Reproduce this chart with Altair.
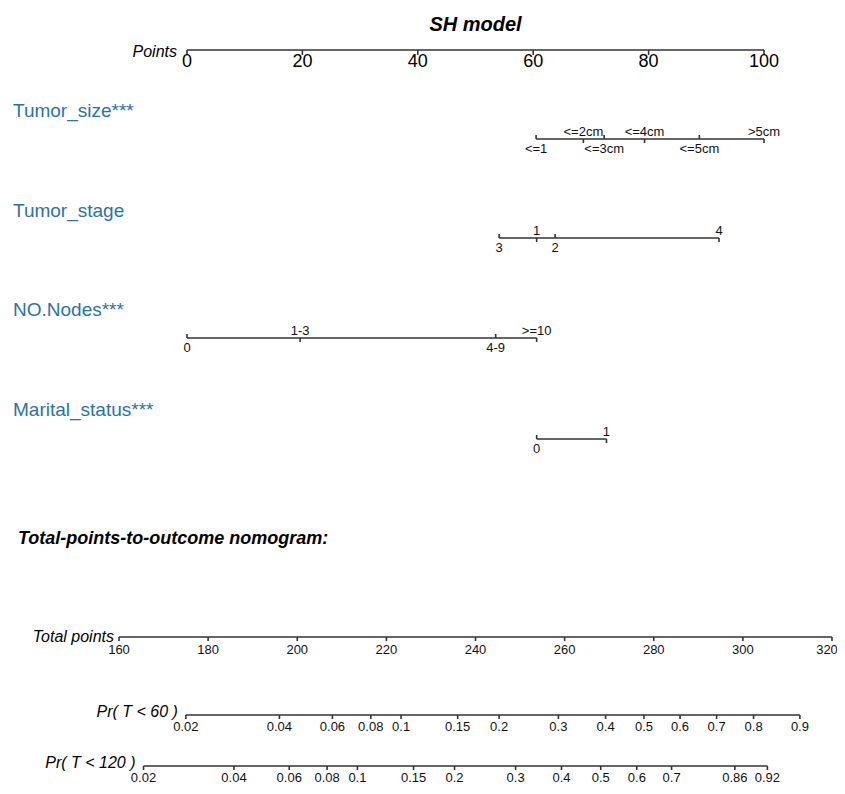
import altair as alt
import pandas as pd

# ---------------- data ----------------
TITLE = "SH model"
SUBTITLE = "Total-points-to-outcome nomogram:"
POINTS_TICKS = [0, 20, 40, 60, 80, 100]

VAR_NAMES = ["Tumor_size***", "Tumor_stage", "NO.Nodes***", "Marital_status***"]
TUMOR_SIZE_LEVELS = ["<=1", "<=2cm", "<=3cm", "<=4cm", "<=5cm", ">5cm"]
TUMOR_SIZE_POINTS = [60.5, 68.7, 72.3, 79.3, 88.8, 100.0]
TUMOR_STAGE_LEVELS = ["1", "2", "3", "4"]
TUMOR_STAGE_POINTS = [60.6, 63.8, 54.1, 92.2]
NODES_LEVELS = ["0", "1-3", "4-9", ">=10"]
NODES_POINTS = [0.0, 19.6, 53.5, 60.6]
MARITAL_LEVELS = ["0", "1"]
MARITAL_POINTS = [60.6, 72.7]

TOTAL_TICKS = [160, 180, 200, 220, 240, 260, 280, 300, 320]

PR60_TITLE = "Pr( T < 60 )"
PR60_LABELS = ["0.02", "0.04", "0.06", "0.08", "0.1", "0.15", "0.2", "0.3",
               "0.4", "0.5", "0.6", "0.7", "0.8", "0.9"]
PR60_TOTAL = [175.0, 196.0, 207.9, 216.5, 223.3, 236.0, 245.3, 258.6,
              269.2, 277.8, 285.9, 294.1, 302.4, 312.8]
PR120_TITLE = "Pr( T < 120 )"
PR120_LABELS = ["0.02", "0.04", "0.06", "0.08", "0.1", "0.15", "0.2", "0.3",
                "0.4", "0.5", "0.6", "0.7", "0.86", "0.92"]
PR120_TOTAL = [165.5, 185.8, 198.2, 206.7, 213.5, 226.1, 235.3, 249.0,
               259.3, 268.1, 276.2, 284.0, 298.2, 305.5]

# ---------------- layout (page pixel rows) ----------------
ROW = {"title": 25, "points": 50, "subtitle": 539, "total": 637,
       "pr60": 715, "pr120": 766}
VAR_LINE_Y = [139, 238, 338, 439]
VAR_NAME_Y = [117, 217, 316, 416]
TOP, BOTTOM = 8, 786

FONT = "Liberation Sans, Arial, sans-serif"
INK = "#111111"
LINE = "#333333"
BLUE = "#2b72ad"

X_PTS = alt.Scale(domain=[0, 100], range=[68, 645], nice=False, zero=False)
X_TOT = alt.Scale(domain=[160, 320], nice=False, zero=False)
Y = alt.Scale(domain=[TOP, BOTTOM], reverse=True, nice=False, zero=False)


def xp(f):
    return alt.X(f, type="quantitative", scale=X_PTS, axis=None)


def xt(f):
    return alt.X(f, type="quantitative", scale=X_TOT, axis=None)


def yy(f="y"):
    return alt.Y(f, type="quantitative", scale=Y, axis=None)


layers = []

# title
title_df = pd.DataFrame({"t": [TITLE], "x": [(POINTS_TICKS[0] + POINTS_TICKS[-1]) / 2],
                         "y": [ROW["title"]]})
layers.append(alt.Chart(title_df).mark_text(font=FONT, fontSize=20, fontWeight="bold",
                                            fontStyle="italic", baseline="middle",
                                            color="#000")
              .encode(x=xp("x"), y=yy(), text="t:N"))

# Points axis
pts_df = pd.DataFrame({"v": POINTS_TICKS, "lab": [str(v) for v in POINTS_TICKS],
                       "y": ROW["points"]})
pts_line = pd.DataFrame({"a": [min(POINTS_TICKS)], "b": [max(POINTS_TICKS)],
                         "y": [ROW["points"]], "t": ["Points"]})
layers.append(alt.Chart(pts_line).mark_rule(color=LINE, strokeWidth=1.6)
              .encode(x=xp("a"), x2=alt.X2("b"), y=yy()))
layers.append(alt.Chart(pts_df).mark_rule(color=LINE, strokeWidth=1.6, y2Offset=5)
              .encode(x=xp("v"), y=yy(), y2=alt.Y2("y")))
layers.append(alt.Chart(pts_df).mark_text(font=FONT, fontSize=18, baseline="top", dy=3,
                                          color="#000")
              .encode(x=xp("v"), y=yy(), text="lab:N"))
layers.append(alt.Chart(pts_line).mark_text(font=FONT, fontSize=16, fontStyle="italic",
                                            align="right", baseline="middle", dx=-10,
                                            dy=2, color="#000")
              .encode(x=xp("a"), y=yy(), text="t:N"))

# variable axes
var_rows = []
var_lines = []
for i, (name, levels, pts) in enumerate(zip(
        VAR_NAMES,
        [TUMOR_SIZE_LEVELS, TUMOR_STAGE_LEVELS, NODES_LEVELS, MARITAL_LEVELS],
        [TUMOR_SIZE_POINTS, TUMOR_STAGE_POINTS, NODES_POINTS, MARITAL_POINTS])):
    order = sorted(range(len(pts)), key=lambda k: pts[k])
    for rank, k in enumerate(order):
        var_rows.append({"var": name, "lab": levels[k], "p": pts[k],
                         "side": "below" if rank % 2 == 0 else "above",
                         "y": VAR_LINE_Y[i]})
    var_lines.append({"var": name, "a": min(pts), "b": max(pts), "y": VAR_LINE_Y[i],
                      "ny": VAR_NAME_Y[i]})
var_df = pd.DataFrame(var_rows)
vline_df = pd.DataFrame(var_lines)
below = var_df[var_df.side == "below"]
above = var_df[var_df.side == "above"]

layers.append(alt.Chart(vline_df).mark_rule(color=LINE, strokeWidth=1.6)
              .encode(x=xp("a"), x2=alt.X2("b"), y=yy()))
layers.append(alt.Chart(below).mark_rule(color=LINE, strokeWidth=1.6, y2Offset=-4)
              .encode(x=xp("p"), y=yy(), y2=alt.Y2("y")))
layers.append(alt.Chart(above).mark_rule(color=LINE, strokeWidth=1.6, y2Offset=4)
              .encode(x=xp("p"), y=yy(), y2=alt.Y2("y")))
layers.append(alt.Chart(below).mark_text(font=FONT, fontSize=13, baseline="top", dy=4,
                                         color=INK)
              .encode(x=xp("p"), y=yy(), text="lab:N"))
layers.append(alt.Chart(above).mark_text(font=FONT, fontSize=13, baseline="alphabetic",
                                         dy=-3, color=INK)
              .encode(x=xp("p"), y=yy(), text="lab:N"))
layers.append(alt.Chart(vline_df).mark_text(font=FONT, fontSize=19, align="left",
                                            baseline="alphabetic", color=BLUE)
              .encode(x=alt.value(-106), y=yy("ny"), text="var:N"))

# subtitle
sub_df = pd.DataFrame({"t": [SUBTITLE], "y": [ROW["subtitle"]]})
layers.append(alt.Chart(sub_df).mark_text(font=FONT, fontSize=18, fontWeight="bold",
                                          fontStyle="italic", align="left",
                                          baseline="middle", color="#000")
              .encode(x=alt.value(-101), y=yy(), text="t:N"))

# Total points axis
tot_df = pd.DataFrame({"v": TOTAL_TICKS, "lab": [str(v) for v in TOTAL_TICKS],
                       "y": ROW["total"]})
tot_line = pd.DataFrame({"a": [min(TOTAL_TICKS)], "b": [max(TOTAL_TICKS)],
                         "y": [ROW["total"]], "t": ["Total points"]})
tot_inner = tot_df[tot_df.v < max(TOTAL_TICKS)]
tot_edge = tot_df[tot_df.v == max(TOTAL_TICKS)]
layers.append(alt.Chart(tot_line).mark_rule(color=LINE, strokeWidth=1.6)
              .encode(x=xt("a"), x2=alt.X2("b"), y=yy()))
layers.append(alt.Chart(tot_df).mark_rule(color=LINE, strokeWidth=1.6, y2Offset=4)
              .encode(x=xt("v"), y=yy(), y2=alt.Y2("y")))
layers.append(alt.Chart(tot_inner).mark_text(font=FONT, fontSize=13, baseline="top", dy=7,
                                             color=INK)
              .encode(x=xt("v"), y=yy(), text="lab:N"))
layers.append(alt.Chart(tot_edge).mark_text(font=FONT, fontSize=13, baseline="top", dy=7,
                                            dx=-5, color=INK)
              .encode(x=xt("v"), y=yy(), text="lab:N"))
layers.append(alt.Chart(tot_line).mark_text(font=FONT, fontSize=16, fontStyle="italic",
                                            align="right", baseline="middle", dx=-5,
                                            dy=0, color="#000")
              .encode(x=xt("a"), y=yy(), text="t:N"))

# probability axes
pr_rows = []
pr_lines = []
for title, labs, tots, y in [(PR60_TITLE, PR60_LABELS, PR60_TOTAL, ROW["pr60"]),
                             (PR120_TITLE, PR120_LABELS, PR120_TOTAL, ROW["pr120"])]:
    for l, t in zip(labs, tots):
        pr_rows.append({"lab": l, "v": t, "y": y})
    pr_lines.append({"t": title, "a": min(tots), "b": max(tots), "y": y})
pr_df = pd.DataFrame(pr_rows)
prl_df = pd.DataFrame(pr_lines)
layers.append(alt.Chart(prl_df).mark_rule(color=LINE, strokeWidth=1.6)
              .encode(x=xt("a"), x2=alt.X2("b"), y=yy()))
layers.append(alt.Chart(pr_df).mark_rule(color=LINE, strokeWidth=1.6, y2Offset=4)
              .encode(x=xt("v"), y=yy(), y2=alt.Y2("y")))
layers.append(alt.Chart(pr_df).mark_text(font=FONT, fontSize=13, baseline="top", dy=6,
                                         color=INK)
              .encode(x=xt("v"), y=yy(), text="lab:N"))
layers.append(alt.Chart(prl_df).mark_text(font=FONT, fontSize=16, fontStyle="italic",
                                          align="right", baseline="middle", dx=-8,
                                          dy=-3, color="#000")
              .encode(x=xt("a"), y=yy(), text="t:N"))

chart = (alt.layer(*layers)
         .resolve_scale(x="independent")
         .properties(width=713, height=BOTTOM - TOP, autosize="none",
                     padding={"left": 111, "top": 0, "right": 5, "bottom": 0},
                     background="white")
         .configure_view(stroke=None))

chart.save("out.html", embed_options={"renderer": "svg", "actions": False})
